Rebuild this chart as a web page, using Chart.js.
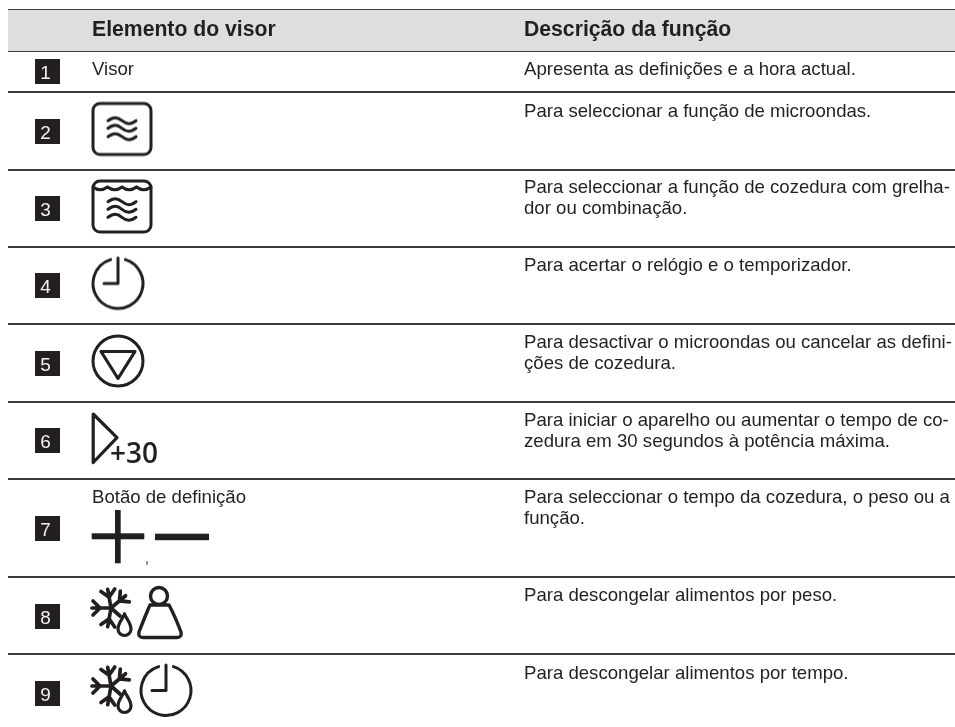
<!DOCTYPE html>
<html>
<head>
<meta charset="utf-8">
<script src="https://cdn.jsdelivr.net/npm/chart.js@4/dist/chart.umd.js"></script>
<style>
  html, body { margin: 0; padding: 0; background: #fff; }
  canvas { display: block; }
</style>
</head>
<body>
<canvas id="tableChart" width="955" height="727"></canvas>
<script>
const headers = ['Elemento do visor', 'Descrição da função'];
const rowNumbers = ['1', '2', '3', '4', '5', '6', '7', '8', '9'];
// row borders, top of the header first
const rowEdges = [10, 51, 92, 169.5, 246.5, 324, 401.5, 479, 577, 654];
const badgeRows = [71.5, 131.5, 208.5, 285.5, 363.5, 440.5, 528.5, 616.5, 693.5];
const elementLabels = [['Visor', 75], ['Botão de definição', 502.7]];
const descriptions = [
  [['Apresenta as definições e a hora actual.'], 75],
  [['Para seleccionar a função de microondas.'], 117],
  [['Para seleccionar a função de cozedura com grelha-', 'dor ou combinação.'], 193.3],
  [['Para acertar o relógio e o temporizador.'], 270.7],
  [['Para desactivar o microondas ou cancelar as defini-', 'ções de cozedura.'], 347.7],
  [['Para iniciar o aparelho ou aumentar o tempo de co-', 'zedura em 30 segundos à potência máxima.'], 425.7],
  [['Para seleccionar o tempo da cozedura, o peso ou a', 'função.'], 502.7],
  [['Para descongelar alimentos por peso.'], 600.7],
  [['Para descongelar alimentos por tempo.'], 679]
];
const iconNames = ['wave', 'grill', 'clock', 'stop', 'start', 'plus', 'minus', 'thaw', 'thawClock'];
const iconX = [122, 122, 118, 118, 126, 118, 182, 136, 143];
const iconY = [128.5, 206, 283.5, 361, 438, 537, 537, 614, 691];

const INK = '#231f20';
const COL_ELEMENT = 92;
const COL_DESC = 524;
const COL_BADGE = 47.5;

function sheet(w, h, paint) {
  const c = document.createElement('canvas');
  c.width = w;
  c.height = h;
  const g = c.getContext('2d');
  g.strokeStyle = INK;
  g.fillStyle = INK;
  g.lineWidth = 3;
  g.lineCap = 'round';
  g.lineJoin = 'round';
  paint(g, w, h);
  return c;
}

function squiggles(g, x, ys, w) {
  ys.forEach(yy => {
    g.beginPath();
    g.moveTo(x, yy);
    g.bezierCurveTo(x + w * 0.2, yy - 4, x + w * 0.32, yy - 4, x + w * 0.5, yy);
    g.bezierCurveTo(x + w * 0.68, yy + 4, x + w * 0.8, yy + 4, x + w, yy);
    g.stroke();
  });
}

function clockFace(g, cx, cy, r) {
  g.beginPath();
  g.arc(cx, cy, r, -Math.PI / 2 + 0.3, -Math.PI / 2 - 0.3);
  g.stroke();
  g.beginPath();
  g.moveTo(cx, cy - r - 0.5);
  g.lineTo(cx, cy);
  g.lineTo(cx - 14, cy);
  g.stroke();
}

function flake(g, cx, cy) {
  g.save();
  g.lineWidth = 3.7;
  // four forked arms, the lower right one is cut short by the drop
  [-100, -40, 180, 100].forEach(deg => {
    g.save();
    g.translate(cx, cy);
    g.rotate(deg * Math.PI / 180);
    g.beginPath();
    g.moveTo(0, 0);
    g.lineTo(19, 0);
    g.moveTo(11, 0);
    g.lineTo(18, -7);
    g.moveTo(11, 0);
    g.lineTo(18, 7);
    g.stroke();
    g.restore();
  });
  g.beginPath();
  g.moveTo(cx, cy);
  g.lineTo(cx + 9, cy + 8);
  g.stroke();
  g.restore();
}

function drop(g, cx, tip) {
  g.save();
  g.lineWidth = 3.2;
  g.beginPath();
  g.moveTo(cx, tip);
  g.bezierCurveTo(cx + 2, tip + 5, cx + 6.5, tip + 9, cx + 6.5, tip + 15);
  g.arc(cx, tip + 15, 6.5, 0, Math.PI);
  g.bezierCurveTo(cx - 6.5, tip + 9, cx - 2, tip + 5, cx, tip);
  g.stroke();
  g.restore();
}

const iconSheets = {
  wave: sheet(64, 58, g => {
    g.beginPath();
    g.roundRect(3, 4, 58, 51, 7);
    g.stroke();
    squiggles(g, 18, [21.2, 28.8, 37.2], 28);
  }),
  grill: sheet(64, 58, g => {
    g.beginPath();
    g.roundRect(3, 4, 58, 51, 7);
    g.stroke();
    g.beginPath();
    for (let i = 0; i < 4; i++) {
      const x = 3 + i * 14.5;
      g.moveTo(x, 10);
      g.quadraticCurveTo(x + 7.2, 15.5, x + 14.5, 10);
    }
    g.stroke();
    squiggles(g, 18, [24.7, 32.3, 40.3], 28);
  }),
  clock: sheet(60, 60, g => clockFace(g, 30, 30, 25)),
  stop: sheet(60, 60, g => {
    g.beginPath();
    g.arc(30, 30, 25, 0, Math.PI * 2);
    g.stroke();
    g.lineWidth = 3.2;
    g.beginPath();
    g.moveTo(13, 20.5);
    g.lineTo(47, 20.5);
    g.lineTo(30, 47.5);
    g.closePath();
    g.stroke();
  }),
  start: sheet(76, 60, g => {
    g.lineWidth = 3.2;
    g.beginPath();
    g.moveTo(5.2, 6);
    g.lineTo(29, 29.7);
    g.lineTo(5.2, 54.5);
    g.closePath();
    g.stroke();
    g.font = '600 28px "Open Sans"';
    g.textBaseline = 'alphabetic';
    g.fillText('+30', 22, 55.3);
  }),
  plus: sheet(60, 60, g => {
    g.fillRect(3.7, 26.3, 52.6, 6);
    g.fillRect(27, 3, 5.7, 53.3);
  }),
  minus: sheet(60, 12, g => g.fillRect(3, 2.7, 54, 6.5)),
  thaw: sheet(100, 60, g => {
    flake(g, 25, 24);
    drop(g, 38.5, 30);
    g.lineWidth = 3.4;
    g.beginPath();
    g.arc(73, 12, 8.5, 0, Math.PI * 2);
    g.stroke();
    g.beginPath();
    g.moveTo(64, 21);
    g.quadraticCurveTo(60, 30, 53, 48);
    g.quadraticCurveTo(52, 53.5, 57, 53.5);
    g.lineTo(91, 53.5);
    g.quadraticCurveTo(96, 53.5, 95, 48);
    g.quadraticCurveTo(88, 30, 83, 21);
    g.closePath();
    g.stroke();
  }),
  thawClock: sheet(110, 60, g => {
    flake(g, 23, 25);
    drop(g, 36.5, 30);
    clockFace(g, 78, 29.5, 25);
  })
};

// draws the table text through the chart's own scales
const tableText = {
  id: 'tableText',
  afterDatasetsDraw(chart) {
    const { ctx, scales: { x, y } } = chart;
    ctx.save();
    ctx.textBaseline = 'alphabetic';
    ctx.textAlign = 'left';

    ctx.fillStyle = INK;
    ctx.font = 'bold 21.2px "Liberation Sans"';
    ctx.fillText(headers[0], x.getPixelForValue(COL_ELEMENT), y.getPixelForValue(36));
    ctx.fillText(headers[1], x.getPixelForValue(COL_DESC), y.getPixelForValue(36));

    ctx.font = '18.6px "Liberation Sans"';
    elementLabels.forEach(([text, base]) => {
      ctx.fillText(text, x.getPixelForValue(COL_ELEMENT), y.getPixelForValue(base));
    });
    descriptions.forEach(([lines, base]) => {
      lines.forEach((line, i) => {
        ctx.fillText(line, x.getPixelForValue(COL_DESC), y.getPixelForValue(base + i * 21));
      });
    });
    ctx.font = '14px "Liberation Sans"';
    ctx.fillText(',', x.getPixelForValue(145), y.getPixelForValue(563));

    ctx.font = '19px "Liberation Sans"';
    ctx.textAlign = 'center';
    ctx.fillStyle = '#f2f2f2';
    rowNumbers.forEach((n, i) => {
      ctx.fillText(n, x.getPixelForValue(COL_BADGE - 2), y.getPixelForValue(badgeRows[i] + 7));
    });
    ctx.restore();
  }
};

new Chart(document.getElementById('tableChart'), {
  type: 'scatter',
  data: {
    datasets: [
      {
        label: 'Header',
        type: 'line',
        data: [{ x: 8, y: rowEdges[0] }, { x: 955, y: rowEdges[0] }],
        fill: { value: rowEdges[1] },
        backgroundColor: '#dcdee0',
        borderWidth: 0,
        pointRadius: 0
      },
      {
        label: 'Number',
        data: badgeRows.map(y => ({ x: COL_BADGE, y })),
        pointStyle: 'rect',
        pointRadius: 17.68,
        backgroundColor: INK,
        borderWidth: 0
      },
      {
        label: 'Icon',
        data: iconNames.map((name, i) => ({ x: iconX[i], y: iconY[i] })),
        pointStyle: iconNames.map(name => iconSheets[name]),
        pointRadius: 30
      }
    ]
  },
  options: {
    responsive: false,
    animation: false,
    layout: { autoPadding: false, padding: { left: 8, right: 0, top: 0, bottom: 0 } },
    plugins: { legend: { display: false }, tooltip: { enabled: false } },
    scales: {
      x: {
        type: 'linear',
        min: 8,
        max: 955,
        border: { display: false },
        grid: { display: false, drawTicks: false },
        ticks: { display: false }
      },
      y: {
        type: 'linear',
        reverse: true,
        min: 0,
        max: 727,
        border: { display: false },
        afterBuildTicks(axis) {
          axis.ticks = rowEdges.map(value => ({ value }));
        },
        grid: {
          drawTicks: false,
          color: '#3a3a3a',
          lineWidth: 2
        },
        ticks: { display: false }
      }
    }
  },
  plugins: [tableText]
});
</script>
</body>
</html>
